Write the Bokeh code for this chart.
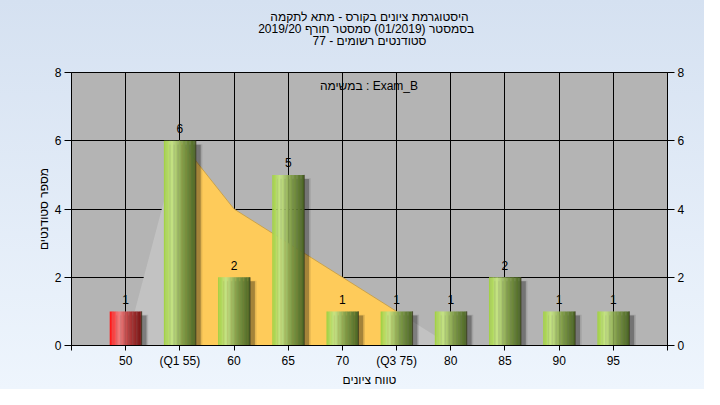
import numpy as np
from bokeh.plotting import figure
from bokeh.models import Range1d, LinearAxis, FixedTicker, Label, Title
from bokeh.core.properties import value
from bokeh.embed import file_html
from bokeh.resources import INLINE

# ---------------- data ----------------
title_lines = [
    "היסטוגרמת ציונים בקורס - מתא לתקמה",
    "בסמסטר  (01/2019)  סמסטר חורף 2019/20",
    "סטודנטים רשומים - 77",
]
task_label = "במשימה : Exam_B"
x_title = "טווח ציונים"
y_title = "מספר סטודנטים"

scores = [50, 55, 60, 65, 70, 75, 80, 85, 90, 95]
tick_labels = ["50", "(Q1 55)", "60", "65", "70", "(Q3 75)", "80", "85", "90", "95"]
counts = [1, 6, 2, 5, 1, 1, 1, 2, 1, 1]
pass_score = 55

curve_scores = [50, 55, 60, 65, 70, 75, 80]
curve_values = [0, 6, 4, 3, 2, 1, 0]
q1_score, q3_score = 55, 75

y_ticks = [0, 2, 4, 6, 8]

FONT = "Liberation Sans"

# ---------------- figure ----------------
p = figure(width=704, height=389, x_range=Range1d(-1, 10), y_range=Range1d(0, 8),
           output_backend="svg", toolbar_location=None,
           min_border_left=71, min_border_right=37, min_border_top=72, min_border_bottom=42)
p.styles = {"background": "linear-gradient(to bottom, #d5e1f1, #eef5fd)"}
p.border_fill_alpha = 0
p.background_fill_color = "#b4b4b4"
p.outline_line_color = "black"
p.outline_line_width = 1
p.title = None

# chart title: spacer nearest the frame, then the three lines (bottom to top)
p.add_layout(Title(text=" ", text_font_size="20px", standoff=3), "above")
for line in reversed(title_lines):
    p.add_layout(Title(text=line, align="center", text_font=FONT,
                       text_font_size="12px", text_font_style="normal",
                       text_color="black", standoff=-4), "above")

# axes
idx = list(range(len(scores)))
xt = list(range(-1, len(scores) + 1))
p.xaxis.ticker = FixedTicker(ticks=xt)
ov = {i: tick_labels[i] for i in idx}
ov[-1] = ""
ov[len(scores)] = ""
p.xaxis.major_label_overrides = ov
p.xaxis.axis_label = x_title

p.yaxis.ticker = FixedTicker(ticks=y_ticks)
p.yaxis.axis_label = y_title
ra = LinearAxis(ticker=FixedTicker(ticks=y_ticks))
p.add_layout(ra, "right")

for ax in p.xaxis + p.yaxis + [ra]:
    ax.axis_line_color = "black"
    ax.major_tick_line_color = "black"
    ax.major_tick_in = 0
    ax.minor_tick_in = 0
    ax.minor_tick_out = 0
    ax.major_label_text_font = FONT
    ax.major_label_text_font_size = "12px"
    ax.major_label_text_color = "black"
    ax.axis_label_text_font = FONT
    ax.axis_label_text_font_size = "12px"
    ax.axis_label_text_font_style = "normal"
    ax.axis_label_text_color = "black"

p.xaxis.major_tick_out = 5
p.xaxis.major_label_standoff = 3
p.xaxis.axis_label_standoff = 2
p.yaxis.major_tick_out = 7
p.yaxis.major_label_standoff = 3
p.yaxis.axis_label_standoff = 1
ra.major_tick_out = 7
ra.major_label_standoff = 3

p.xgrid.ticker = FixedTicker(ticks=idx)
p.ygrid.ticker = FixedTicker(ticks=y_ticks[1:-1])
for g in (p.xgrid, p.ygrid):
    g.grid_line_color = "black"
    g.grid_line_alpha = 1
    g.grid_line_width = 1

# ---------------- area (distribution) ----------------
cx = [scores.index(s) for s in curve_scores]
gx = cx + [cx[-1], cx[0]]
gy = curve_values + [0, 0]
p.patch(gx, gy, fill_color="#c2c2c2", line_color=None)

yx = [c for c, s in zip(cx, curve_scores) if q1_score <= s <= q3_score]
yv = [v for v, s in zip(curve_values, curve_scores) if q1_score <= s <= q3_score]
p.patch(yx + [yx[-1], yx[0]], yv + [0, 0], fill_color="#fecb5a", line_color=None)
p.line(yx, yv, line_color="#c9a24c", line_width=1)

# ---------------- bars ----------------
w = 0.59
dx = 0.09
dy = 0.12
xs = np.array(idx, dtype=float)
cv = np.array(counts, dtype=float)

# shadows
p.quad(left=xs - w / 2 + dx, right=xs + w / 2 + dx + 0.03, top=cv - dy + 0.02, bottom=-1,
       fill_color="black", fill_alpha=0.10, line_color=None)
p.quad(left=xs - w / 2 + dx, right=xs + w / 2 + dx, top=cv - dy, bottom=-1,
       fill_color="black", fill_alpha=0.28, line_color=None)

green_stops = [(0.0, (160, 208, 64)), (0.25, (198, 228, 134)), (0.6, (128, 156, 72)), (1.0, (74, 100, 36))]
red_stops = [(0.0, (255, 18, 18)), (0.3, (242, 128, 128)), (0.6, (180, 60, 60)), (1.0, (118, 20, 20))]


def grad(stops, t):
    for (t0, c0), (t1, c1) in zip(stops[:-1], stops[1:]):
        if t0 <= t <= t1:
            f = (t - t0) / (t1 - t0)
            r, g, b = [int(round(a + (bb - a) * f)) for a, bb in zip(c0, c1)]
            return "#%02x%02x%02x" % (r, g, b)
    return "#%02x%02x%02x" % stops[-1][1]


N = 24
L, R, T, C = [], [], [], []
for i, v in zip(idx, counts):
    stops = red_stops if scores[i] < pass_score else green_stops
    for k in range(N):
        t = (k + 0.5) / N
        l = i - w / 2 + k * w / N
        r = i - w / 2 + (k + 1) * w / N + (0.004 if k < N - 1 else 0)
        L.append(l); R.append(r); T.append(v); C.append(grad(stops, t))
p.quad(left=L, right=R, top=T, bottom=0, fill_color=C, line_color=None)
p.segment(x0=xs + w / 2, y0=cv, x1=xs + w / 2, y1=np.zeros_like(cv),
          line_color="#3a3a20", line_width=1, line_alpha=0.8)

# value labels (centred about 12 px above each bar)
label_gap = 12 / 34.375
p.text(x=xs, y=cv + label_gap, text=[str(c) for c in counts], text_align="center",
       text_baseline="middle", text_font=value(FONT),
       text_font_size="12px", text_color="black")

p.add_layout(Label(x=4.49, y=7.59, text=task_label, text_align="center",
                   text_baseline="middle", text_font=FONT, text_font_size="12px",
                   text_color="black"))

open("out.html", "w").write(file_html(p, INLINE))
